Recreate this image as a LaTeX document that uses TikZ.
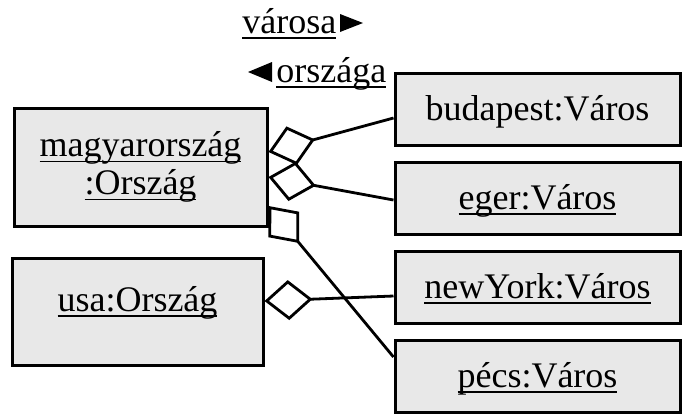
\documentclass[tikz,border=0pt]{standalone}
\usepackage{fontspec}
\setmainfont{Liberation Serif}
\usetikzlibrary{arrows.meta}
\definecolor{boxgray}{HTML}{E8E8E8}
% underline at a fixed depth below the baseline
\newcommand\ulx[1]{\setbox0\hbox{#1}\rlap{\rule[-0.16em]{\wd0}{0.05em}}\box0}

\begin{document}
\begin{tikzpicture}[x=0.5pt,y=-0.5pt,
  obj/.style={draw, line width=1.5pt, fill=boxgray, inner sep=0pt,
    font=\fontsize{18}{19}\selectfont, align=center},
  city/.style={obj, minimum width=142.5pt, minimum height=36pt,
    text height=12pt, text depth=1pt},
  agg/.style={line width=1.4pt, {Diamond[open,length=24pt,width=20pt]}-},
  role/.style={inner sep=0pt, anchor=base west, font=\fontsize{18}{19}\selectfont}]
\useasboundingbox (0,0) rectangle (683,414);

% objects
\node[obj, minimum width=126.5pt, minimum height=59pt] (mo) at (140.5,167)
  {\ulx{magyarország}\\\ulx{:Ország}};
\node[obj, minimum width=125.5pt, minimum height=53.5pt,
  text height=6pt, text depth=6pt] (usa) at (137.5,311.5) {\ulx{usa:Ország}};
\node[city] (bp)   at (537.5,109)   {budapest:Város};
\node[city] (eger) at (537.5,198.5) {\ulx{eger:Város}};
\node[city] (ny)   at (537.5,287.5) {\ulx{newYork:Város}};
\node[city] (pecs) at (537.5,376.5) {\ulx{pécs:Város}};

% role names
\node[role] (rv) at (242,33) {\ulx{városa}};
\node[role] (ro) at (276,82) {\ulx{országa}};
\fill (340,14) -- (340,32) -- (363,23) -- cycle;
\fill (272,62) -- (272,82) -- (248,72) -- cycle;

% aggregation links
\draw[agg] ([yshift=7.5pt]mo.east)  -- ([yshift=-4.5pt]bp.west);
\draw[agg] ([yshift=-5pt]mo.east)   -- ([yshift=-0.75pt]eger.west);
\draw[agg] ([yshift=-19.5pt]mo.east) -- ([yshift=9.75pt]pecs.west);
\draw[agg] ([yshift=5.25pt]usa.east) -- ([yshift=-4.25pt]ny.west);
\end{tikzpicture}
\end{document}
